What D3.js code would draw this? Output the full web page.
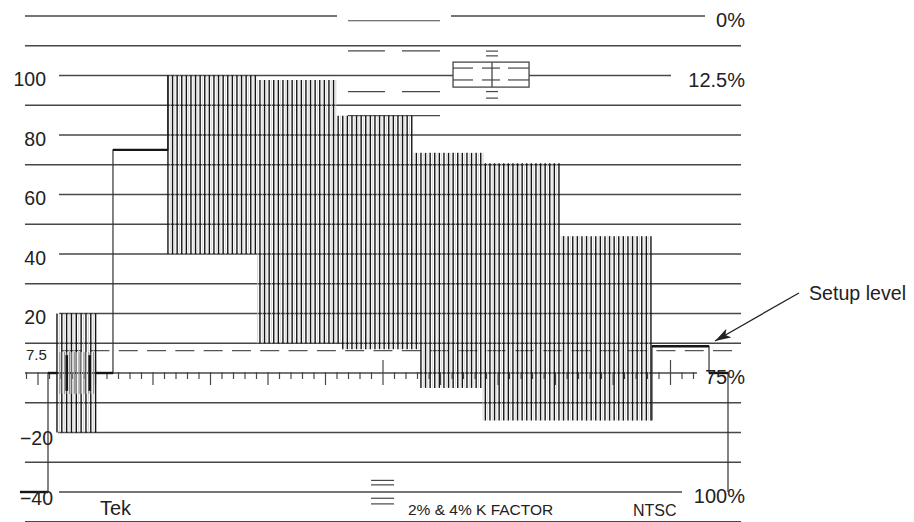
<!DOCTYPE html>
<html><head><meta charset="utf-8">
<script src="https://cdn.jsdelivr.net/npm/d3@7"></script>
<style>
html,body{margin:0;padding:0;background:#fff;}
svg{display:block;font-family:"Liberation Sans",Arial,Helvetica,sans-serif;}
</style>
</head><body>
<svg id="c" width="914" height="522"></svg>
<script>
// ---------- DATA (time in µs, level in IRE) ----------
const gratLevels = [120,110,100,90,80,70,60,50,40,30,20,10,0,-10,-20,-30,-40,-50];
const gratSpans = {
  "120": [[-0.13,27.0],[36.91,59.0]],
  "100": [[2.83,37.09],[43.7,56.04]],
  "80": [[2.83,62.13]], "60": [[2.83,62.13]], "40": [[2.83,62.13]], "20": [[2.83,62.13]],
  "0": [[-0.13,58.3]], "-20": [[2.75,62.13]], "-40": [[2.83,57.0]]
};
const fullSpan = [[-0.13,62.13]];
const leftLabels = [
  {v:100,text:"100"},{v:80,text:"80"},{v:60,text:"60"},{v:40,text:"40"},
  {v:20,text:"20"},{v:-20,text:"\u221220"},{v:-40,text:"\u221240"}
];
const setupMarkLabel = {v:7.5,text:"7.5"};
const rightLabels = [{v:120,text:"0%"},{v:100,text:"12.5%"},{v:0,text:"75%"},{v:-40,text:"100%"}];
const tickCount = 58;

// K-factor graticule marks
const markLines = [
  {v:118.4,spans:[[27.96,35.96]]},
  {v:108.3,spans:[[27.96,31.17],[32.65,35.96]]},
  {v:94.6,spans:[[27.96,31.17],[32.65,35.96]]},
  {v:86.5,spans:[[27.96,35.96]]},
  {v:108.2,spans:[[39.96,41.0]]},{v:106.6,spans:[[39.96,41.0]]},
  {v:94.6,spans:[[39.96,41.0]]},{v:92.4,spans:[[39.96,41.0]]},
  {v:-36.1,spans:[[29.96,31.96]]},{v:-37.6,spans:[[29.96,31.96]]},
  {v:-42.1,spans:[[29.96,31.96]]},{v:-44.0,spans:[[29.96,31.96]]}
];
const box = {t0:37.09,t1:43.7,v0:96.1,v1:104.5,dashV:[102.5,98.5],
  dashSpans:[[37.09,38.83],[39.61,41.17],[41.87,43.7]],mid:40.48};

// signal
const levelPath = [
  [-0.57,-40],[1.87,-40],[1.87,0],[2.65,0],[6.04,0],[7.52,0],[7.52,75],[12.3,75],[12.3,100]
];
const tailPath = [[54.39,-16],[54.39,9],[59.35,9],[59.35,0],[61.0,0],[61.0,-40]];
const flatSegs = [
  [-0.57,1.87,-40],[1.87,2.65,0],[6.04,7.52,0],[7.52,12.3,75],[54.39,59.35,9],[59.35,61.0,0]
];
const burst = {t0:2.65,t1:6.04,hi:20,lo:-20,step:0.42};
const innerBurst = {t0:2.9,t1:5.9,hi:7,lo:-7,step:0.42};
const innerBurstDark = [3.5, 5.5];
const topEnvelope = [
  {t0:12.3,t1:20.04,v:100},{t0:20.04,t1:27.0,v:98.5},{t0:27.0,t1:33.6,v:86.5},
  {t0:33.6,t1:39.7,v:74},{t0:39.7,t1:46.39,v:70.5},{t0:46.39,t1:54.4,v:46}
];
const bottomEnvelope = [
  {t0:12.3,t1:20.04,v:40},{t0:20.04,t1:27.3,v:10},{t0:27.3,t1:34.2,v:8},
  {t0:34.2,t1:39.65,v:-5},{t0:39.65,t1:54.4,v:-16}
];
const chromaStep = 0.4;
const setupDash = {v:7.5,t0:3.1,t1:62.13};
const arrow = {from:[67.17,26.9],to:[59.87,10.75],label:"Setup level"};
const footer = [
  {t:6.39,text:"Tek",size:20,dy:515},
  {t:33.17,text:"2% & 4% K FACTOR",size:15.5,dy:515},
  {t:52.74,text:"NTSC",size:16,dy:516}
];

// ---------- SCALES ----------
const svg = d3.select("#c");
const x = d3.scaleLinear().domain([0,58]).range([26.5,693.5]);
const y = d3.scaleLinear().domain([-50,120]).range([521.75,16]);
const gcol = "#474747", wcol = "#151515";

// graticule lines
const g = svg.append("g");
gratLevels.forEach(v=>{
  const spans = gratSpans[String(v)] || fullSpan;
  spans.forEach(s=>{
    g.append("line").attr("x1",x(s[0])).attr("x2",x(s[1]))
      .attr("y1",y(v)).attr("y2",y(v)).attr("stroke",gcol).attr("stroke-width",1.3);
  });
});
markLines.forEach(m=>m.spans.forEach(s=>{
  g.append("line").attr("x1",x(s[0])).attr("x2",x(s[1]))
    .attr("y1",y(m.v)).attr("y2",y(m.v)).attr("stroke",gcol).attr("stroke-width",1.2);
}));
// center box
g.append("rect").attr("x",x(box.t0)).attr("y",y(box.v1))
  .attr("width",x(box.t1)-x(box.t0)).attr("height",y(box.v0)-y(box.v1))
  .attr("fill","#fff").attr("stroke",gcol).attr("stroke-width",1.3);
box.dashV.forEach(v=>box.dashSpans.forEach(s=>{
  g.append("line").attr("x1",x(s[0])).attr("x2",x(s[1]))
    .attr("y1",y(v)).attr("y2",y(v)).attr("stroke",gcol).attr("stroke-width",1.2);
}));
g.append("line").attr("x1",x(box.mid)).attr("x2",x(box.mid))
  .attr("y1",y(box.v1)).attr("y2",y(box.v0)).attr("stroke",gcol).attr("stroke-width",1.3);

// ticks on the 0 line
d3.range(0,tickCount+1).forEach(k=>{
  const major = k%5===1, tall = k%25===6;
  g.append("line").attr("x1",x(k)).attr("x2",x(k))
    .attr("y1", tall ? y(0)-13 : y(0)-1)
    .attr("y2", major||tall ? y(0)+12 : y(0)+6)
    .attr("stroke",gcol).attr("stroke-width",1.2);
});

// setup dashed line
g.append("line").attr("x1",x(setupDash.t0)).attr("x2",x(setupDash.t1))
  .attr("y1",y(setupDash.v)).attr("y2",y(setupDash.v))
  .attr("stroke","#555").attr("stroke-width",1.3).attr("stroke-dasharray","19,9.3");

// ---------- SIGNAL ----------
const w = svg.append("g");
const line = d3.line().x(d=>x(d[0])).y(d=>y(d[1]));
w.append("path").attr("d",line(levelPath)).attr("fill","none").attr("stroke","#333").attr("stroke-width",1.2);
w.append("path").attr("d",line(tailPath)).attr("fill","none").attr("stroke","#333").attr("stroke-width",1.2);
flatSegs.forEach(s=>{
  w.append("line").attr("x1",x(s[0])).attr("x2",x(s[1])).attr("y1",y(s[2])).attr("y2",y(s[2]))
    .attr("stroke",wcol).attr("stroke-width",2.4);
});

function strokes(b, blackCol, grayCol, bw){
  for(let t=b.t0; t<=b.t1+1e-6; t+=b.step){
    w.append("line").attr("x1",x(t)).attr("x2",x(t)).attr("y1",y(b.hi)).attr("y2",y(b.lo))
      .attr("stroke",blackCol).attr("stroke-width",bw);
    if(t+b.step/2<=b.t1) w.append("line").attr("x1",x(t+b.step/2)).attr("x2",x(t+b.step/2))
      .attr("y1",y(b.hi)).attr("y2",y(b.lo)).attr("stroke",grayCol).attr("stroke-width",0.8);
  }
}
strokes(burst, wcol, "#c4c4c4", 1.4);
strokes(innerBurst, "#8a8a8a", "#d0d0d0", 1);
innerBurstDark.forEach(t=>{
  w.append("line").attr("x1",x(t)).attr("x2",x(t)).attr("y1",y(innerBurst.hi-1)).attr("y2",y(innerBurst.lo+1))
    .attr("stroke",wcol).attr("stroke-width",2.6);
});

const env = (arr,t)=>{ const s = arr.find(d=>t>=d.t0 && t<d.t1) || arr[arr.length-1]; return s.v; };
const t0 = topEnvelope[0].t0, t1 = topEnvelope[topEnvelope.length-1].t1;
for(let t=t0; t<=t1-0.05; t+=chromaStep){
  w.append("line").attr("x1",x(t)).attr("x2",x(t))
    .attr("y1",y(env(topEnvelope,t))).attr("y2",y(env(bottomEnvelope,t)))
    .attr("stroke",wcol).attr("stroke-width",1.4);
  const th = t+chromaStep/2;
  if(th<t1) w.append("line").attr("x1",x(th)).attr("x2",x(th))
    .attr("y1",y(env(topEnvelope,th))).attr("y2",y(env(bottomEnvelope,th)))
    .attr("stroke","#cccccc").attr("stroke-width",0.8);
}

// ---------- TEXT ----------
const tg = svg.append("g").attr("fill","#222");
leftLabels.forEach(d=>{
  tg.append("text").attr("x", d.v<0 ? 53 : 46).attr("y", y(d.v)+(d.v<0?12.5:10.5))
    .attr("text-anchor","end").attr("font-size",19.5).text(d.text);
});
tg.append("text").attr("x",26).attr("y",360).attr("font-size",15).text(setupMarkLabel.text);
rightLabels.forEach(d=>{
  tg.append("text").attr("x",745).attr("y",y(d.v)+11)
    .attr("text-anchor","end").attr("font-size",20).text(d.text);
});
footer.forEach(d=>{
  tg.append("text").attr("x",x(d.t)).attr("y",d.dy).attr("font-size",d.size).text(d.text);
});

// arrow
svg.append("defs").append("marker").attr("id","ah").attr("viewBox","0 0 16 10")
  .attr("refX",16).attr("refY",5).attr("markerWidth",16).attr("markerHeight",10)
  .attr("markerUnits","userSpaceOnUse").attr("orient","auto")
  .append("path").attr("d","M0,0 L16,5 L0,10 L4,5 Z").attr("fill","#222");
svg.append("line").attr("x1",x(arrow.from[0])).attr("y1",y(arrow.from[1]))
  .attr("x2",x(arrow.to[0])).attr("y2",y(arrow.to[1]))
  .attr("stroke","#222").attr("stroke-width",1.3).attr("marker-end","url(#ah)");
tg.append("text").attr("x",809).attr("y",300).attr("font-size",20)
  .attr("textLength",97).attr("lengthAdjust","spacingAndGlyphs").text(arrow.label);
</script>
</body></html>
